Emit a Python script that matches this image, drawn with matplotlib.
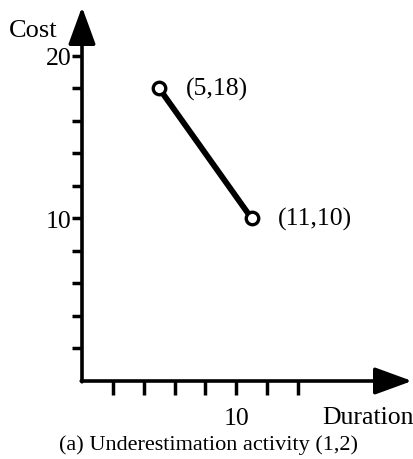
import matplotlib.pyplot as plt

# activity (1,2): normal point and crash point
durations = [5, 11]
costs = [18, 10]
point_labels = ["(5,18)", "(11,10)"]

x_ticks = [2, 4, 6, 8, 10, 12, 14]
x_tick_labels = ["", "", "", "", "10", "", ""]
y_ticks = [2, 4, 6, 8, 10, 12, 14, 16, 18, 20]
y_tick_labels = ["", "", "", "", "10", "", "", "", "", "20"]

W, H = 414, 460
plt.rcParams["font.family"] = ["Liberation Serif", "DejaVu Serif"]

fig = plt.figure(figsize=(W / 100, H / 100), dpi=100)
ax = fig.add_axes([82 / W, 78 / H, (412 - 82) / W, (382 - 8) / H])
ax.set_xlim(0, 21.4)
ax.set_ylim(0, 23)
for s in ax.spines.values():
    s.set_visible(False)
ax.patch.set_alpha(0)

# axes with arrow heads
arrow = dict(arrowstyle="-|>,head_length=1.15,head_width=0.42", lw=2.6,
             color="black", mutation_scale=20, shrinkA=0, shrinkB=0)
ax.annotate("", xy=(21.4, 0), xytext=(-0.05, 0), arrowprops=arrow,
            annotation_clip=False)
ax.annotate("", xy=(0, 23), xytext=(0, -0.05), arrowprops=arrow,
            annotation_clip=False)

ax.set_xticks(x_ticks)
ax.set_xticklabels(x_tick_labels, fontsize=18.5)
ax.set_yticks(y_ticks)
ax.set_yticklabels(y_tick_labels, fontsize=18.5)
ax.tick_params(axis="x", direction="out", length=10, width=2.5, pad=9)
ax.tick_params(axis="y", direction="out", length=7.5, width=2.5, pad=0)

ax.plot(durations, costs, color="black", lw=4.2, marker="o", ms=9,
        mfc="white", mec="black", mew=2.4, clip_on=False)
for x, y, t in zip(durations, costs, point_labels):
    ax.annotate(t, (x, y), xytext=(19, 0), textcoords="offset points",
                ha="left", va="center", fontsize=18.5)

fig.text(33 / W, 1 - 31 / H, "Cost", ha="center", va="center", fontsize=19)
fig.text(322 / W, 1 - 418 / H, "Duration", ha="left", va="center", fontsize=18.5)
fig.text(209 / W, 1 - 445 / H, "(a) Underestimation activity (1,2)",
         ha="center", va="center", fontsize=16)

fig.savefig("out.png", dpi=100)
